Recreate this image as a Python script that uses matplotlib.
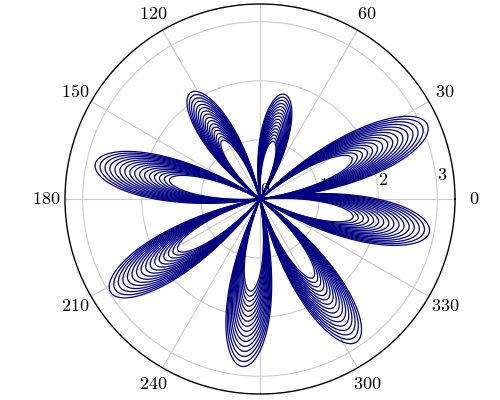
import numpy as np
import matplotlib
matplotlib.use("Agg")
import matplotlib.pyplot as plt
plt.rcParams['mathtext.fontset'] = 'cm'

petal_dirs = [-11, 24, 77, 123, 168, 212, 264, 304]
petal_amps = [2.92, 3.1, 1.82, 2.15, 2.85, 2.98, 2.85, 2.92]
scales = [1.0, 0.97, 0.94, 0.91, 0.88, 0.85, 0.82, 0.79, 0.76, 0.73, 0.70,
          0.67, 0.64, 0.61, 0.58, 0.55]
half_width = 21.0
angle_ticks = list(range(0, 360, 30))
angle_labels = ['' if a in (90, 270) else r'$%d$' % a for a in angle_ticks]

fig = plt.figure(figsize=(5, 4), dpi=100)
ax = fig.add_axes([0.13, 0.015, 0.78, 0.975], projection='polar')
for phi, A in zip(petal_dirs, petal_amps):
    for s in scales:
        h = np.radians(half_width * (0.4 + 0.6 * s))
        t = np.linspace(-h, h, 200)
        r = s * A * np.cos(np.pi / 2 * t / h)
        ax.plot(t + np.radians(phi), r, color='#000080', lw=0.9)

ax.set_rlim(0, 3.3)
ax.set_rticks([0, 1, 2, 3])
ax.set_yticklabels([r'$%d$' % v for v in [0, 1, 2, 3]], fontsize=13)
ax.set_rlabel_position(5)
ax.set_thetagrids(angle_ticks, angle_labels, fontsize=13)
ax.tick_params(axis='x', pad=3)
ax.grid(color='#cccccc', lw=0.8)
ax.spines['polar'].set_linewidth(1.0)
fig.savefig('out.png')
